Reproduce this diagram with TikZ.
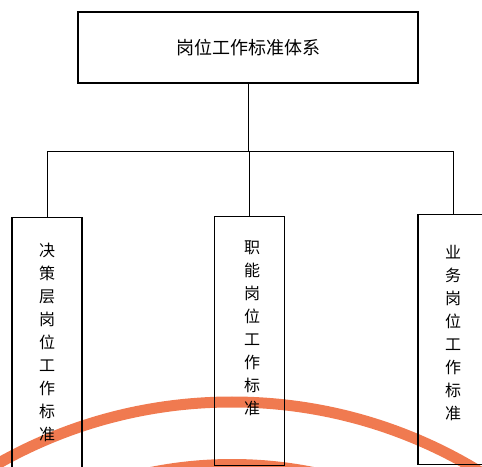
\documentclass[tikz,border=0pt]{standalone}
\usepackage{fontspec}
\newfontfamily\cjk{Noto Sans CJK SC}
\usetikzlibrary{positioning}
\definecolor{stamp}{RGB}{240,122,80}
\tikzset{%
	topbox/.style  = {draw, rectangle, line width=1.2pt, minimum width=340pt, minimum height=71pt, text centered, font=\cjk\fontsize{18}{18}\selectfont},
	colbox/.style  = {draw, rectangle, line width=1.2pt, minimum width=70pt, anchor=north},
	vtext/.style   = {align=center, inner sep=0pt, font=\cjk\fontsize{16}{23}\selectfont},
	link/.style    = {line width=0.8pt},
	ring/.style    = {draw=stamp, line width=11pt},
}
\begin{document}
\begin{tikzpicture}[x=1pt,y=1pt]
	\useasboundingbox (0,0) rectangle (482,466);
	% stamp rings behind the chart
	\draw[ring] (232,-411) circle (475pt);
	\draw[ring, line width=10pt] (232,-411) circle (413pt);

	\node[topbox] (sys) at (248,418.5) {岗位工作标准体系};
	\node[colbox, minimum height=262pt] (jc) at (47,249) {};
	\node[colbox, minimum height=249pt] (zn) at (249.5,250) {};
	\node[colbox, minimum height=250pt] (yw) at (453,252) {};

	\node[vtext] (jct) at (47,124) {决\\策\\层\\岗\\位\\工\\作\\标\\准};
	\node[vtext] (znt) at (252,138) {职\\能\\岗\\位\\工\\作\\标\\准};
	\node[vtext] (ywt) at (453,133) {业\\务\\岗\\位\\工\\作\\标\\准};

	\coordinate (bus) at (249,315);
	\draw[link] (sys.south) -- (sys.south |- bus);
	\draw[link] (jc.north) -- (jc.north |- bus) -- (yw.north |- bus) -- (yw.north);
	\draw[link] (zn.north) -- (zn.north |- bus);
\end{tikzpicture}
\end{document}
